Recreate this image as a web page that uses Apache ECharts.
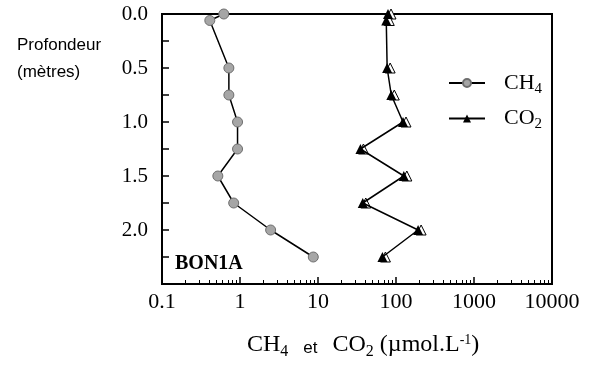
<!DOCTYPE html>
<html>
<head>
<meta charset="utf-8">
<script src="https://cdn.jsdelivr.net/npm/echarts@6/dist/echarts.min.js"></script>
<style>
  html, body { margin: 0; padding: 0; background: #fff; }
  #chart { width: 593px; height: 367px; }
</style>
</head>
<body>
<div id="chart"></div>
<script>
// depth profile, site BON1A
const depths = [0.0, 0.06, 0.5, 0.75, 1.0, 1.25, 1.5, 1.75, 2.0, 2.25];
const ch4 = [0.62, 0.41, 0.72, 0.72, 0.93, 0.93, 0.52, 0.83, 2.47, 8.7];
const co2 = [79, 75, 77, 87, 123, 35, 126, 37.5, 192, 67];
const yTicks = [0.0, 0.5, 1.0, 1.5, 2.0];

const SERIF = "Liberation Serif, Times New Roman, serif";
const SANS = "Liberation Sans, Arial, sans-serif";

const pairs = (vals) => vals.map((v, i) => [v, depths[i]]);

const chart = echarts.init(document.getElementById("chart"), null, { renderer: "canvas" });

chart.setOption({
  animation: false,
  backgroundColor: "#fff",
  grid: { left: 162, right: 41, top: 14, bottom: 83, show: true, borderColor: "#000", borderWidth: 2 },
  xAxis: {
    type: "log",
    logBase: 10,
    min: 0.1,
    max: 10000,
    position: "bottom",
    axisLine: { show: true, onZero: false, lineStyle: { color: "#000", width: 2 } },
    axisTick: { show: true, inside: true, length: 7, lineStyle: { color: "#000", width: 1.5 } },
    minorTick: { show: true, splitNumber: 9, length: 4, lineStyle: { color: "#000", width: 1 } },
    splitLine: { show: false },
    axisLabel: {
      color: "#000",
      fontFamily: SERIF,
      fontSize: 22,
      margin: 7,
      formatter: (v) => (v < 1 ? String(v) : String(Math.round(v))),
    },
  },
  yAxis: {
    type: "value",
    inverse: true,
    min: 0,
    max: 2.5,
    interval: 0.25,
    position: "left",
    axisLine: { show: true, onZero: false, lineStyle: { color: "#000", width: 2 } },
    axisTick: { show: true, inside: true, length: 7, lineStyle: { color: "#000", width: 1.5 } },
    splitLine: { show: false },
    axisLabel: {
      color: "#000",
      fontFamily: SERIF,
      fontSize: 21,
      margin: 14,
      formatter: (v) => {
        const t = yTicks.find((y) => Math.abs(y - v) < 1e-6);
        return t === undefined ? "" : t.toFixed(1);
      },
    },
  },
  legend: {
    data: ["CH4", "CO2"],
    orient: "vertical",
    left: 443,
    top: 67,
    itemWidth: 36,
    itemHeight: 10,
    itemGap: 11,
    formatter: (name) => (name === "CH4" ? "{m|CH}{s|4}" : "{m|CO}{s|2}"),
    textStyle: {
      color: "#000",
      rich: {
        m: { fontFamily: SERIF, fontSize: 22, color: "#000", padding: [0, 0, 0, 14] },
        s: { fontFamily: SERIF, fontSize: 15, color: "#000", padding: [12, 0, 0, 0] },
      },
    },
  },
  series: [
    {
      name: "CH4",
      type: "line",
      data: pairs(ch4),
      symbol: "circle",
      symbolSize: 10,
      lineStyle: { color: "#000", width: 1.5 },
      itemStyle: { color: "#a6a6a6", borderColor: "#6e6e6e", borderWidth: 1 },
      z: 3,
    },
    {
      name: "CO2 open",
      type: "line",
      data: pairs(co2),
      symbol: "triangle",
      symbolSize: 10,
      symbolOffset: [3, 0],
      lineStyle: { width: 0 },
      itemStyle: { color: "#fff", borderColor: "#000", borderWidth: 1 },
      z: 2,
    },
    {
      name: "CO2",
      type: "line",
      data: pairs(co2),
      symbol: "triangle",
      symbolSize: 10,
      lineStyle: { color: "#000", width: 1.5 },
      itemStyle: { color: "#000", borderColor: "#000", borderWidth: 0 },
      z: 4,
    },
  ],
  graphic: [
    {
      type: "text",
      left: 17,
      top: 32,
      style: { text: "Profondeur\n(mètres)", font: "17px " + SANS, fill: "#000", lineHeight: 27 },
    },
    {
      type: "text",
      left: 175,
      top: 254,
      style: { text: "BON1A", font: "bold 20px " + SERIF, fill: "#000" },
    },
    {
      type: "text",
      left: 247,
      top: 333,
      style: {
        text: "{m|CH}{s|4}{e|et}{m|CO}{s|2}{m| (µmol.L}{p|-1}{m|)}",
        rich: {
          m: { fontFamily: SERIF, fontSize: 24, color: "#000" },
          s: { fontFamily: SERIF, fontSize: 16, color: "#000", padding: [13, 0, 0, 0] },
          e: { fontFamily: SANS, fontSize: 17, color: "#000", padding: [6, 15, 0, 15] },
          p: { fontFamily: SERIF, fontSize: 14, color: "#000", padding: [0, 0, 9, 0] },
        },
      },
    },
  ],
});
</script>
</body>
</html>
